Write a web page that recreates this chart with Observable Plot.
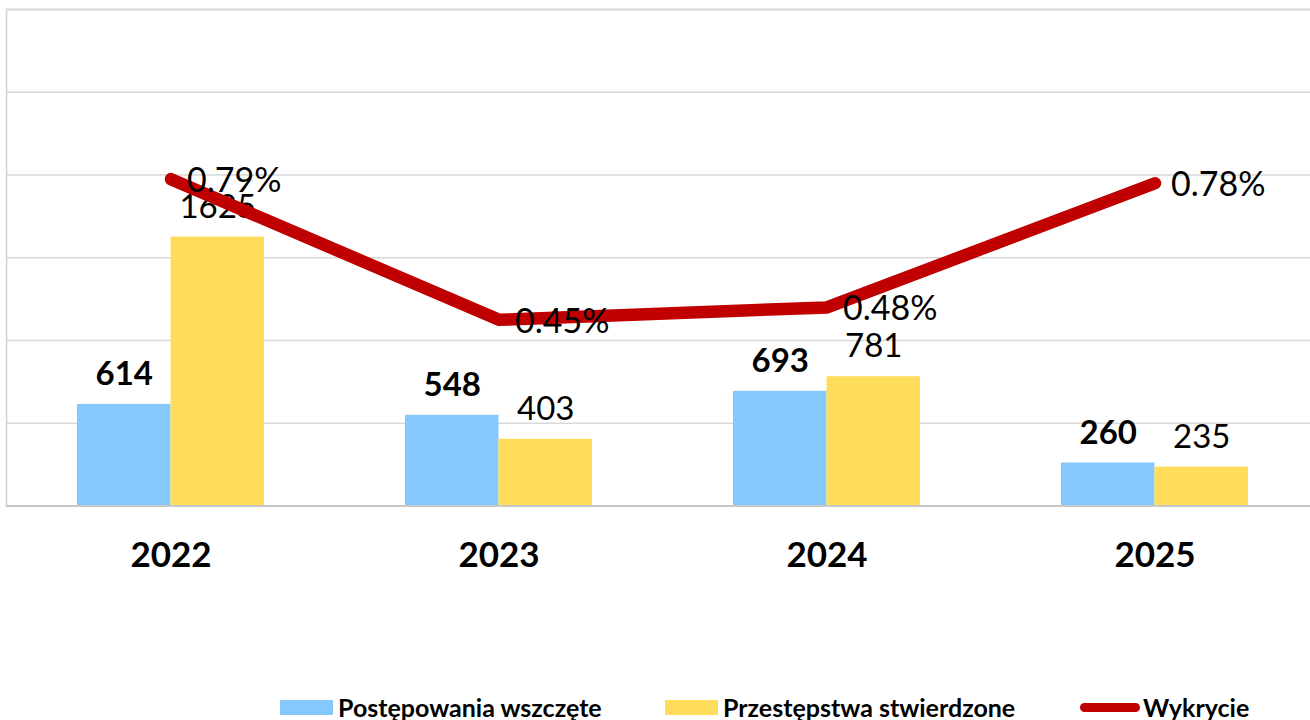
<!DOCTYPE html>
<html>
<head>
<meta charset="utf-8">
<script src="https://cdn.jsdelivr.net/npm/d3@7"></script>
<script src="https://cdn.jsdelivr.net/npm/@observablehq/plot@0.6"></script>
<style>
  html, body { margin: 0; padding: 0; background: #fff; overflow: hidden; }
  #wrap { position: relative; width: 1310px; height: 720px; }
  #legend { position: absolute; top: 693px; left: 0; width: 1310px; height: 28px;
            font-family: Lato, "DejaVu Sans", sans-serif; font-weight: bold; font-size: 25px; color: #000; }
  .item { position: absolute; top: 0; display: flex; align-items: center; height: 28px; white-space: nowrap; }
  .sw { display: inline-block; width: 53px; height: 15px; margin-right: 5px; }
  .ln { display: inline-block; width: 60px; height: 9px; border-radius: 5px; margin-right: 3px; }
</style>
</head>
<body>
<div id="wrap">
  <div id="chart"></div>
  <div id="legend"></div>
</div>
<script>
const years = ["2022", "2023", "2024", "2025"];
const postepowania = [614, 548, 693, 260];       // Postępowania wszczęte
const przestepstwa = [1625, 403, 781, 235];      // Przestępstwa stwierdzone
const wykrycie = [0.79, 0.45, 0.48, 0.78];       // Wykrycie (%)
const gridTicks = [500, 1000, 1500, 2000, 2500, 3000];
const seriesNames = ["Postępowania wszczęte", "Przestępstwa stwierdzone", "Wykrycie"];
const colors = ["#85C8FB", "#FFDC5C", "#C00000"];

// secondary axis: 0–1.2 % mapped onto primary 0–3000
const pctToPrimary = 3000 / 1.2;

const rows = years.map((year, i) => ({
  year,
  a: postepowania[i],
  b: przestepstwa[i],
  p: wykrycie[i],
  pY: wykrycie[i] * pctToPrimary
}));

const half = 93.5;

const chart = Plot.plot({
  width: 1310,
  height: 600,
  marginLeft: 6,
  marginRight: -14,
  marginTop: 9,
  marginBottom: 94.5,
  style: { fontFamily: "Lato, 'DejaVu Sans', sans-serif", background: "white" },
  x: { type: "band", domain: years, range: [76.5, 1249.5], paddingInner: 0.431, paddingOuter: 0, align: 0, axis: null },
  y: { domain: [0, 3000], axis: null },
  marks: [
    Plot.ruleY(gridTicks, { stroke: "#d9d9d9", strokeWidth: 1.6 }),
    Plot.frame({ stroke: "#d4d4d4", strokeWidth: 1.6 }),
    Plot.barY(rows, { x: "year", y: "a", fill: colors[0], insetRight: half, insetLeft: 0 }),
    Plot.barY(rows, { x: "year", y: "b", fill: colors[1], insetLeft: half, insetRight: 0 }),
    Plot.ruleY([0], { stroke: "#c8c8c8", strokeWidth: 2 }),
    Plot.text(rows, { x: "year", y: "a", text: d => String(d.a), dx: -half / 2, dy: -30, fontSize: 33, fontWeight: "bold", fill: "#000" }),
    Plot.text(rows, { x: "year", y: "b", text: d => String(d.b), dx: half / 2, dy: -30, fontSize: 33, fill: "#000" }),
    Plot.line(rows, { x: "year", y: "pY", stroke: colors[2], strokeWidth: 12.5, strokeLinecap: "round", strokeLinejoin: "round" }),
    Plot.text(rows, { x: "year", y: "pY", text: d => d.p.toFixed(2) + "%", textAnchor: "start", dx: 16, dy: 2, fontSize: 34, fill: "#000" }),
    Plot.text(rows, { x: "year", y: 0, text: "year", dy: 50, fontSize: 35, fontWeight: "bold", fill: "#000" })
  ]
});
document.getElementById("chart").appendChild(chart);

const legend = document.getElementById("legend");
const lefts = [280, 665, 1080];
seriesNames.forEach((name, i) => {
  const item = document.createElement("div");
  item.className = "item";
  item.style.left = lefts[i] + "px";
  const sw = document.createElement("span");
  sw.className = i === 2 ? "ln" : "sw";
  sw.style.background = colors[i];
  const t = document.createElement("span");
  t.textContent = name;
  item.appendChild(sw);
  item.appendChild(t);
  legend.appendChild(item);
});
</script>
</body>
</html>
